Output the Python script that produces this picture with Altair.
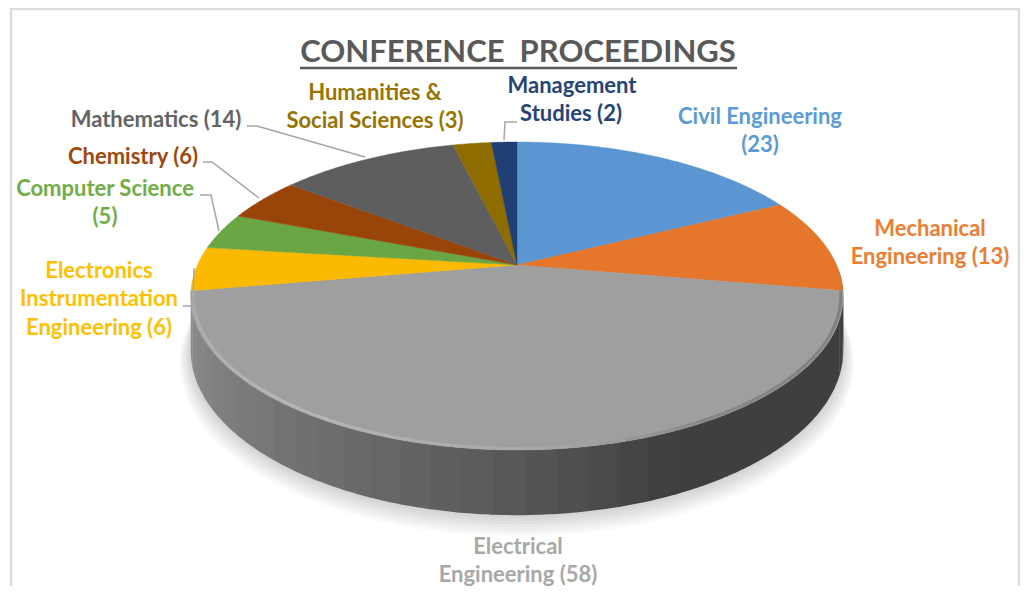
import numpy as np
import pandas as pd
import altair as alt

# ---- data
CATEGORIES = ["Civil Engineering", "Mechanical Engineering", "Electrical Engineering",
              "Electronics Instrumentation Engineering", "Computer Science", "Chemistry",
              "Mathematics", "Humanities & Social Sciences", "Management Studies"]
VALUES = [23, 13, 58, 6, 5, 6, 14, 3, 2]
TOP_COLORS = ["#5b96d2", "#e5762c", "#9f9f9f", "#fbb900", "#6ba644", "#994509",
              "#5e5e5e", "#8f6c00", "#203f74"]

LABEL_TEXT = ["CONFERENCE\u00a0\u00a0PROCEEDINGS", "Management", "Studies (2)", "Civil Engineering", "(23)",
              "Mechanical", "Engineering (13)", "Electrical", "Engineering (58)",
              "Electronics", "Instrumentation", "Engineering (6)",
              "Computer Science", "(5)", "Chemistry (6)", "Mathematics (14)",
              "Humanities &", "Social Sciences (3)"]
LABEL_X = [518, 572, 571, 760, 760, 930, 930, 518, 518, 99, 99, 99, 105, 105, 133, 156, 375, 375]
LABEL_Y = [53, 86, 114, 117, 145, 229, 257, 547, 575, 271, 299, 328, 189, 217, 157, 120, 93, 121]
LABEL_COLOR = ["#595959", "#264478", "#264478", "#5b9bd5", "#5b9bd5", "#ed7d31", "#ed7d31",
               "#a8a8a8", "#a8a8a8", "#ffc000", "#ffc000", "#ffc000", "#70ad47", "#70ad47",
               "#9e480e", "#636363", "#997300", "#997300"]
LABEL_SIZE = [31] + [22] * 17

LEADER_ID = ["m", "m", "m", "c", "c", "c", "s", "s", "s", "g", "g", "g", "e", "e", "e"]
LEADER_X = [247, 257, 365, 203, 212, 259, 200, 211, 219, 517, 505, 504, 194, 193, 183]
LEADER_Y = [126, 126, 157, 162, 162, 198, 195, 195, 231, 122, 122, 140, 268, 306, 306]

FRAME_X = [11, 11, 1019, 1019]
FRAME_Y = [586, 9, 9, 586]
RULE_X = [300, 737]
RULE_Y = [68, 68]

# ---- perspective view of the disc
CX, CY = 517.0, 265.0
A, B, P, H = 319.6, 147.8, 0.2013, 52.0


def project(deg, k=1.0, drop=0.0):
    t = np.radians(deg)
    x, y = np.sin(t) * k, np.cos(t) * k
    s = 1 / (1 + P * y)
    return (CX + A * x * s, CY - B * y * s + drop * s)


def feat(coords, name, geom="Polygon"):
    g = [coords] if geom == "Polygon" else coords
    return {"type": "Feature", "properties": {"name": name},
            "geometry": {"type": geom, "coordinates": g}}


def arc(a0, a1, **kw):
    n = max(2, int(abs(a1 - a0)) * 2 + 1)
    return [list(map(float, project(d, **kw))) for d in np.linspace(a0, a1, n)]


bounds = np.concatenate([[0], np.cumsum(VALUES)]) / sum(VALUES) * 360
wall_start, wall_end = bounds[2], bounds[3]

# shadow
shadow = []
for k in range(1, 8):
    ring = arc(0, 360, k=1 + 0.0045 * k, drop=H + 1.5 * k)
    shadow.append(feat(ring, f"s{k}"))

# wall facets
shade_angle = [95, 158, 180, 215, 262]
shade_grey = [63, 64, 88, 114, 146]
wall, wall_names, wall_cols = [], [], []
edges = np.linspace(wall_start - 8, wall_end + 1, 38)
for i in range(len(edges) - 1):
    a0, a1 = edges[i], edges[i + 1] + 0.3
    poly = arc(a0, a1) + arc(a1, a0, drop=H)
    name = f"w{i:02d}"
    wall.append(feat(poly + [poly[0]], name))
    g = int(np.interp((a0 + a1) / 2, shade_angle, shade_grey))
    wall_names.append(name)
    wall_cols.append(f"#{g:02x}{g:02x}{g:02x}")

# top face
top = []
for i, c in enumerate(CATEGORIES):
    poly = [[CX, CY]] + arc(bounds[i], bounds[i + 1]) + [[CX, CY]]
    top.append(feat(poly, c))

# highlight round the front of the top face
rim_angle = [100, 150, 175, 215, 258]
rim_grey = [128, 135, 168, 182, 172]
rim, rim_names, rim_cols = [], [], []
redges = np.linspace(wall_start, wall_end, 41)
for i in range(len(redges) - 1):
    name = f"r{i:02d}"
    rim.append(feat(arc(redges[i], redges[i + 1] + 0.3, k=0.993), name, "LineString"))
    g = int(np.interp((redges[i] + redges[i + 1]) / 2, rim_angle, rim_grey))
    rim_names.append(name)
    rim_cols.append(f"#{g:02x}{g:02x}{g:02x}")


def geo(features, names=None, cols=None, stroked=False, **mark):
    ch = alt.Chart(alt.Data(values=features)).mark_geoshape(**mark).project(
        type="identity", scale=1, translate=[-8, -8])
    if names:
        sc = alt.Scale(domain=names, range=cols)
        if mark.get("filled", True):
            enc = {"fill": alt.Fill("properties.name:N", scale=sc, legend=None)}
            if stroked:
                enc["stroke"] = alt.Stroke("properties.name:N", scale=sc, legend=None)
            return ch.encode(**enc)
        return ch.encode(stroke=alt.Stroke("properties.name:N", scale=sc, legend=None))
    return ch


xs = alt.Scale(domain=[8, 1020], nice=False, zero=False)
ys = alt.Scale(domain=[586, 8], nice=False, zero=False)
X = alt.X("x:Q", scale=xs, axis=None)
Y = alt.Y("y:Q", scale=ys, axis=None)

leaders = pd.DataFrame({"id": LEADER_ID, "x": LEADER_X, "y": LEADER_Y})
leaders["o"] = range(len(leaders))
frame = pd.DataFrame({"x": FRAME_X, "y": FRAME_Y, "o": range(len(FRAME_X))})
underline = pd.DataFrame({"x": RULE_X, "y": RULE_Y, "o": range(len(RULE_X))})
labels = pd.DataFrame({"t": LABEL_TEXT, "x": LABEL_X, "y": LABEL_Y,
                       "c": LABEL_COLOR, "s": LABEL_SIZE})

layers = [
    geo(shadow, fill="#000000", fillOpacity=0.022, strokeOpacity=0),
    geo(wall, wall_names, wall_cols, strokeOpacity=0),
    geo(top, CATEGORIES, TOP_COLORS, stroked=True, strokeWidth=0.4, strokeJoin="round"),
    geo(rim, rim_names, rim_cols, filled=False, strokeWidth=3, strokeCap="butt"),
    alt.Chart(frame).mark_line(color="#dcdcdc", strokeWidth=2.5).encode(x=X, y=Y, order="o:Q"),
    alt.Chart(leaders).mark_line(color="#a6a6a6", strokeWidth=1.5).encode(
        x=X, y=Y, detail="id:N", order="o:Q"),
    alt.Chart(underline).mark_line(color="#595959", strokeWidth=2.5).encode(x=X, y=Y, order="o:Q"),
    alt.Chart(labels).mark_text(font="Lato", fontWeight="bold", align="center",
                                baseline="middle").encode(
        x=X, y=Y, text="t:N",
        color=alt.Color("c:N", scale=None),
        size=alt.Size("s:Q", scale=None)),
]

chart = alt.layer(*layers).resolve_scale(fill="independent", stroke="independent").properties(
    width=1012, height=578, padding=0, background="#ffffff",
    autosize=alt.AutoSizeParams(type="none", contains="padding"),
).configure_view(stroke=None)

chart.save("out.html", embed_options={"renderer": "svg", "actions": False})
